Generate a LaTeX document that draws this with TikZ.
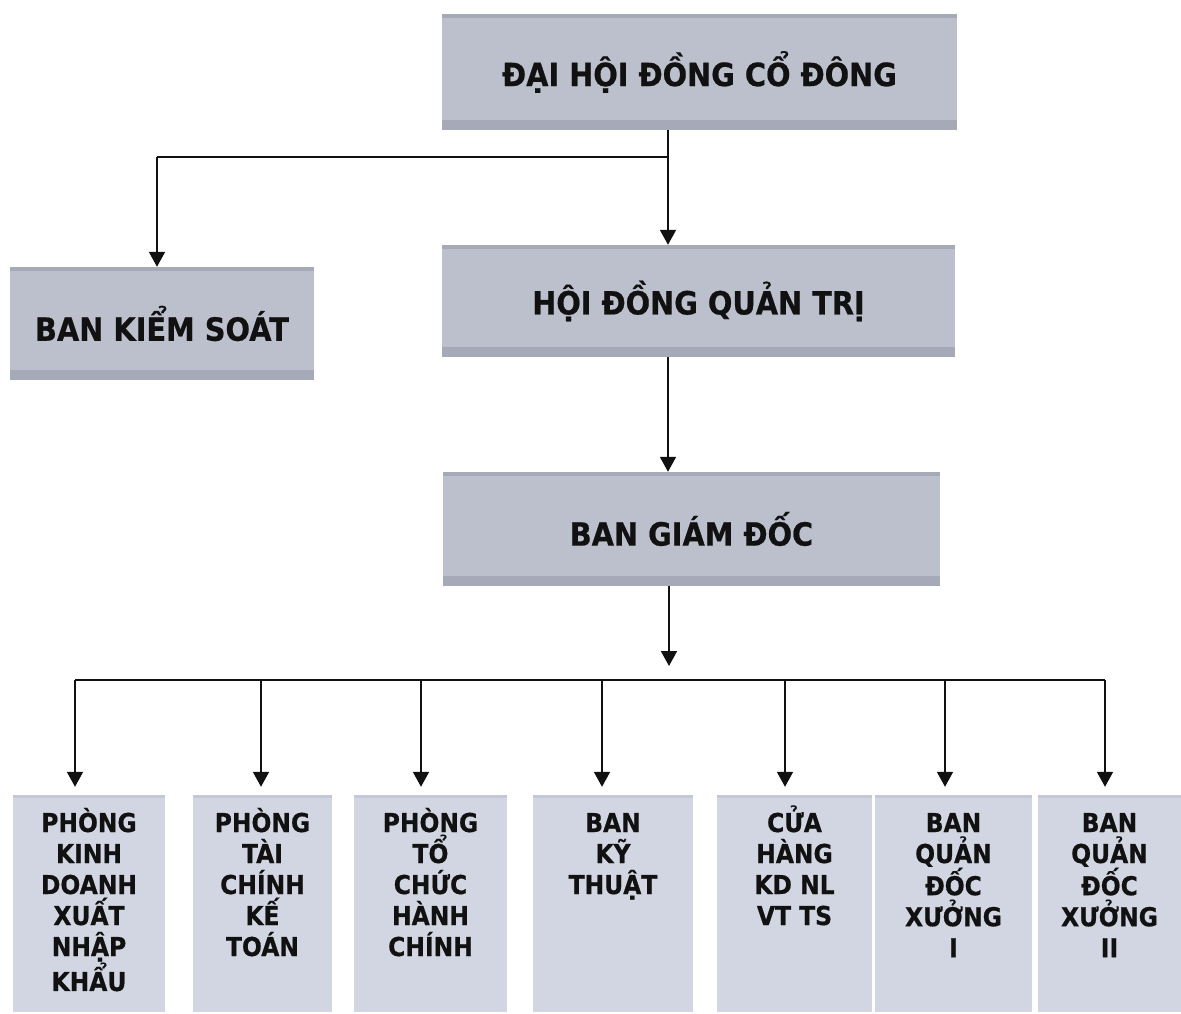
\documentclass[tikz,border=0pt]{standalone}
\usepackage{fontspec}
\setmainfont{DejaVu Sans}[FakeStretch=0.9,BoldFeatures={FakeBold=0.6}]
\usetikzlibrary{arrows.meta}
\definecolor{boxfill}{RGB}{188,192,204}
\definecolor{boxband}{RGB}{166,170,184}
\definecolor{lowfill}{RGB}{210,214,226}
\definecolor{lowband}{RGB}{196,200,214}
\definecolor{ink}{RGB}{17,17,17}
\tikzset{
  mainbox/.style={fill=boxfill, inner sep=0pt, text=ink,
    font=\fontsize{32}{38}\selectfont\bfseries,
    path picture={
      \fill[boxband] (path picture bounding box.south west) rectangle ([yshift=10pt]path picture bounding box.south east);
      \fill[boxband] (path picture bounding box.north west) rectangle ([yshift=-4pt]path picture bounding box.north east);
    }},
  lowbox/.style={fill=lowfill, inner sep=0pt, text=ink,
    font=\fontsize{26}{31}\selectfont\bfseries,
    path picture={
      \fill[lowband] (path picture bounding box.north west) rectangle ([yshift=-3pt]path picture bounding box.north east);
    }},
  conn/.style={draw=ink, line width=1.9pt},
  arr/.style={conn, -{Triangle[width=16pt,length=15pt]}},
}
\newcommand{\lowtext}[2]{\parbox[c][217pt][t]{#1pt}{\centering\rule{0pt}{37pt}#2\par}}
\begin{document}
\begin{tikzpicture}[x=1pt,y=-1pt]
\useasboundingbox (0,0) rectangle (1181,1014);
\fill[white] (0,0) rectangle (1181,1014);

% main boxes
\node[mainbox, minimum width=515pt, minimum height=116pt] (dhd) at (699.5,72) {\raisebox{3pt}{ĐẠI HỘI ĐỒNG CỔ ĐÔNG}};
\node[mainbox, minimum width=304pt, minimum height=113pt] (bks) at (162,323.5) {BAN KIỂM SOÁT};
\node[mainbox, minimum width=513pt, minimum height=112pt] (hdqt) at (698.5,301) {\raisebox{2pt}{HỘI ĐỒNG QUẢN TRỊ}};
\node[mainbox, minimum width=497pt, minimum height=114pt] (bgd) at (691.5,529) {BAN GIÁM ĐỐC};

% lower boxes
\node[lowbox] (p1) at (89,903.5) {\lowtext{152}{PHÒNG\\KINH\\DOANH\\XUẤT\\NHẬP\\KHẨU}};
\node[lowbox] (p2) at (262.5,903.5) {\lowtext{139}{PHÒNG\\TÀI\\CHÍNH\\KẾ\\TOÁN}};
\node[lowbox] (p3) at (430.5,903.5) {\lowtext{153}{PHÒNG\\TỔ\\CHỨC\\HÀNH\\CHÍNH}};
\node[lowbox] (p4) at (613,903.5) {\lowtext{160}{BAN\\KỸ\\THUẬT}};
\node[lowbox] (p5) at (794.5,903.5) {\lowtext{155}{CỬA\\HÀNG\\KD NL\\VT TS}};
\node[lowbox] (p6) at (953.5,903.5) {\lowtext{157}{BAN\\QUẢN\\ĐỐC\\XƯỞNG\\I}};
\node[lowbox] (p7) at (1109.5,903.5) {\lowtext{143}{BAN\\QUẢN\\ĐỐC\\XƯỞNG\\II}};

% junction coordinates
\coordinate (j0) at (668,157);
\coordinate (jl) at (157,157);
\coordinate (jb) at (669,666);
\coordinate (b1) at (75,680);
\coordinate (b2) at (261,680);
\coordinate (b3) at (421,680);
\coordinate (b4) at (602,680);
\coordinate (b5) at (785,680);
\coordinate (b6) at (945,680);
\coordinate (b7) at (1105,680);

% top connectors
\draw[conn] (j0 |- dhd.south) -- (j0) -- (jl);
\draw[arr] (jl) -- (jl |- bks.north);
\draw[arr] (j0) -- (j0 |- hdqt.north);
\draw[arr] (j0 |- hdqt.south) -- (j0 |- bgd.north);
\draw[arr] (jb |- bgd.south) -- (jb);

% bus
\draw[conn] (b1) -- (b7);
\foreach \i in {1,...,7}{
  \draw[arr, shorten >=8pt] (b\i) -- (b\i |- p\i.north);
}
\end{tikzpicture}
\end{document}
